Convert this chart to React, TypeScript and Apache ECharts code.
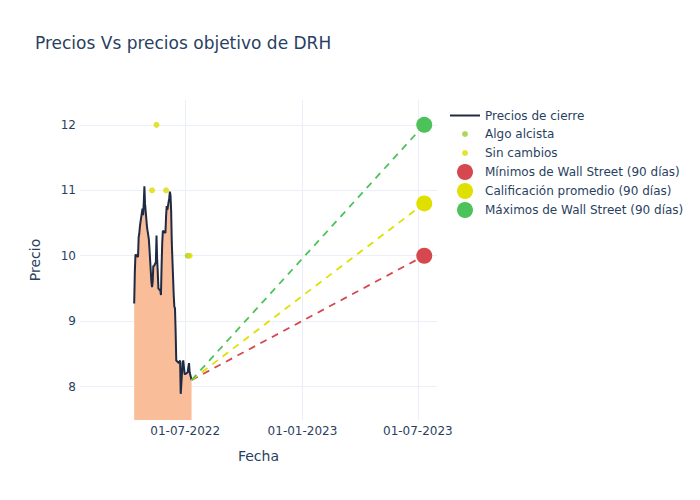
import React, { useEffect, useRef } from 'react';
import * as echarts from 'echarts';

const dates = [
  '2022-04-12', '2022-04-13', '2022-04-14', '2022-04-18', '2022-04-19', '2022-04-20', '2022-04-21', '2022-04-22',
  '2022-04-25', '2022-04-26', '2022-04-27', '2022-04-28', '2022-04-29',
  '2022-05-02', '2022-05-03', '2022-05-04', '2022-05-05', '2022-05-06', '2022-05-09', '2022-05-10', '2022-05-11',
  '2022-05-12', '2022-05-13', '2022-05-16', '2022-05-17', '2022-05-18', '2022-05-19', '2022-05-20', '2022-05-23',
  '2022-05-24', '2022-05-25', '2022-05-26', '2022-05-27', '2022-05-31',
  '2022-06-01', '2022-06-02', '2022-06-03', '2022-06-06', '2022-06-07', '2022-06-08', '2022-06-09', '2022-06-10',
  '2022-06-13', '2022-06-14', '2022-06-15', '2022-06-16', '2022-06-17', '2022-06-21', '2022-06-22', '2022-06-23',
  '2022-06-24', '2022-06-27', '2022-06-28', '2022-06-29', '2022-06-30',
  '2022-07-01', '2022-07-05', '2022-07-06', '2022-07-07', '2022-07-08', '2022-07-11',
];

const closes = [
  9.27, 9.75, 10.02, 9.98, 10.28, 10.34, 10.45, 10.52,
  10.72, 10.62, 10.8, 11.06, 10.8,
  10.45, 10.38, 10.32, 10.25, 10.1, 9.6, 9.52, 9.6,
  9.85, 9.84, 9.9, 10.31, 9.95, 9.75, 9.5, 9.47,
  9.4, 9.85, 10.2, 10.38, 10.35,
  10.6, 10.76, 10.7, 10.88, 10.98, 10.92, 10.68, 10.2,
  9.4, 9.22, 9.2, 8.85, 8.4, 8.36, 8.38, 8.4,
  7.89, 8.37, 8.4, 8.3, 8.2,
  8.19, 8.22, 8.3, 8.36, 8.22, 8.1,
];

const algoAlcistaDates = ['2022-07-05'];
const algoAlcistaValues = [10];
const sinCambiosDates = ['2022-05-10', '2022-05-17', '2022-06-01', '2022-07-08'];
const sinCambiosValues = [11, 12, 11, 10];

const targetDate = '2023-07-11';
const targetMin = 10;
const targetAvg = 10.8;
const targetMax = 12;

const xRange = ['2022-01-17', '2023-07-31'];
const xTicks = ['2022-07-01', '2023-01-01', '2023-07-01'];
const yTicks = [8, 9, 10, 11, 12];

const TEXT = '#2a3f5f';
const GRID = '#EBF0F8';
const FONT = 'DejaVu Sans';

const C_LINE = '#1f2a44';
const C_FILL = '#F9BD99';
const C_ALGO = '#9ACD32';
const C_SIN = '#DCDC00';
const C_MIN = '#D6474F';
const C_AVG = '#E0E000';
const C_MAX = '#4DC25A';

const pad = (n: number) => (n < 10 ? '0' + n : '' + n);
const ts = (s: string) => Date.UTC(+s.slice(0, 4), +s.slice(5, 7) - 1, +s.slice(8, 10));

export default function App() {
  const ref = useRef<HTMLDivElement>(null);
  useEffect(() => {
    const chart = echarts.init(ref.current!, null, { renderer: 'svg' });
    const lastDate = dates[dates.length - 1];
    const lastClose = closes[closes.length - 1];

    const legendItems = [
      { name: 'Precios de cierre', icon: 'rect', h: 2, y: 115.5 },
      { name: 'Algo alcista', icon: 'circle', h: 6, y: 134 },
      { name: 'Sin cambios', icon: 'circle', h: 6, y: 153 },
      { name: 'Mínimos de Wall Street (90 días)', icon: 'circle', h: 16, y: 172 },
      { name: 'Calificación promedio (90 días)', icon: 'circle', h: 16, y: 191 },
      { name: 'Máximos de Wall Street (90 días)', icon: 'circle', h: 16, y: 210 },
    ];

    const targetSeries = (name: string, value: number, color: string) => ({
      name,
      type: 'line',
      color,
      data: [
        { value: [ts(lastDate), lastClose], symbol: 'none' },
        { value: [ts(targetDate), value], symbol: 'circle', symbolSize: 16 },
      ],
      lineStyle: { color, width: 1.8, type: [7, 6] },
      itemStyle: { color, borderWidth: 0 },
      z: 4,
    });

    chart.setOption({
      animation: false,
      backgroundColor: '#ffffff',
      textStyle: { fontFamily: FONT },
      title: {
        text: 'Precios Vs precios objetivo de DRH',
        left: 35,
        top: 34,
        padding: 0,
        textStyle: { fontFamily: FONT, fontSize: 17, fontWeight: 'normal', color: TEXT },
      },
      legend: legendItems.map((it) => ({
        data: [it.name],
        icon: it.icon,
        itemWidth: 30,
        itemHeight: it.h,
        left: it.icon === 'circle' ? 450 + (30 - it.h) / 2 : 450,
        top: it.y - Math.max(it.h, 12) / 2,
        padding: 0,
        selectedMode: false,
        textStyle: { fontFamily: FONT, fontSize: 12, color: TEXT },
      })),
      grid: { left: 80, right: 263, top: 100, bottom: 80, containLabel: false },
      xAxis: {
        type: 'value',
        min: ts(xRange[0]),
        max: ts(xRange[1]),
        name: 'Fecha',
        nameLocation: 'middle',
        nameGap: 29,
        nameTextStyle: { fontFamily: FONT, fontSize: 14, color: TEXT },
        axisLine: { show: false },
        axisTick: { show: false, customValues: xTicks.map(ts) },
        axisLabel: {
          customValues: xTicks.map(ts),
          color: TEXT,
          fontFamily: FONT,
          fontSize: 12,
          margin: 5,
          formatter: (v: number) => {
            const d = new Date(v);
            return pad(d.getUTCDate()) + '-' + pad(d.getUTCMonth() + 1) + '-' + d.getUTCFullYear();
          },
        },
        splitLine: { show: true, lineStyle: { color: GRID, width: 1 } },
      },
      yAxis: {
        type: 'value',
        min: 7.49,
        max: 12.38,
        name: 'Precio',
        nameLocation: 'middle',
        nameGap: 38,
        nameTextStyle: { fontFamily: FONT, fontSize: 14, color: TEXT },
        axisLine: { show: false },
        axisTick: { show: false, customValues: yTicks },
        axisLabel: { customValues: yTicks, color: TEXT, fontFamily: FONT, fontSize: 12, margin: 4 },
        splitLine: { show: true, lineStyle: { color: GRID, width: 1 } },
      },
      series: [
        {
          name: 'Precios de cierre',
          type: 'line',
          color: C_LINE,
          data: dates.map((d, i) => [ts(d), closes[i]]),
          showSymbol: false,
          symbol: 'none',
          lineStyle: { color: C_LINE, width: 2 },
          areaStyle: { color: C_FILL, opacity: 1, origin: 'start' },
          z: 2,
        },
        {
          name: 'Algo alcista',
          type: 'scatter',
          color: C_ALGO,
          symbolSize: 6,
          data: algoAlcistaDates.map((d, i) => [ts(d), algoAlcistaValues[i]]),
          itemStyle: { color: C_ALGO },
          z: 3,
        },
        {
          name: 'Sin cambios',
          type: 'scatter',
          color: C_SIN,
          symbolSize: 6,
          data: sinCambiosDates.map((d, i) => [ts(d), sinCambiosValues[i]]),
          itemStyle: { color: C_SIN },
          z: 3,
        },
        targetSeries('Mínimos de Wall Street (90 días)', targetMin, C_MIN),
        targetSeries('Calificación promedio (90 días)', targetAvg, C_AVG),
        targetSeries('Máximos de Wall Street (90 días)', targetMax, C_MAX),
      ],
    });
    return () => chart.dispose();
  }, []);
  return <div ref={ref} style={{ position: 'fixed', left: 0, top: 0, width: 700, height: 500 }} />;
}
